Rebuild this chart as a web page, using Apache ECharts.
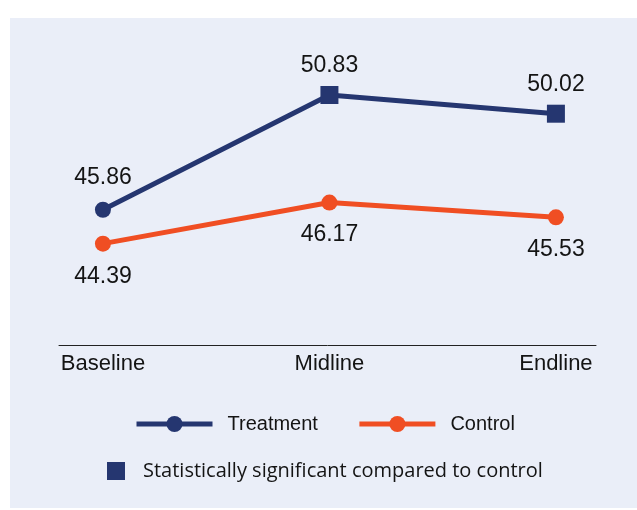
<!DOCTYPE html>
<html>
<head>
<meta charset="utf-8">
<script src="https://cdn.jsdelivr.net/npm/echarts@6/dist/echarts.min.js"></script>
<style>
  html, body { margin: 0; padding: 0; background: #ffffff; }
  #panel { position: absolute; left: 10px; top: 18px; right: 0; bottom: 2px; background: #eaeef8; }
  #chart { position: absolute; left: 0; top: 0; width: 637px; height: 510px; }
</style>
</head>
<body>
<div id="panel"></div>
<div id="chart"></div>
<script>
const categories = ['Baseline', 'Midline', 'Endline'];
const treatment = [45.86, 50.83, 50.02];
const control = [44.39, 46.17, 45.53];
const significant = [false, true, true];
const sigLabel = 'Statistically significant compared to control';

const NAVY = '#253670';
const ORANGE = '#f04e23';
const TEXT = '#141414';
const numFont = '"Liberation Sans", Arial, Helvetica, sans-serif';

const chart = echarts.init(document.getElementById('chart'), null, { renderer: 'canvas' });

const treatData = treatment.map((v, i) => ({
  value: [i, v],
  symbol: significant[i] ? 'rect' : 'circle',
  symbolSize: significant[i] ? 18 : 16,
  label: { distance: significant[i] ? 9 : 13 }
}));
const ctrlData = control.map((v, i) => [i, v]);

chart.setOption({
  backgroundColor: 'transparent',
  animation: false,
  grid: { left: 59, right: 41, top: 68, bottom: 165 },
  xAxis: {
    type: 'value',
    min: -0.194,
    max: 2.177,
    splitLine: { show: false },
    axisLine: { show: true, onZero: false, lineStyle: { color: '#222', width: 1 } },
    axisTick: { show: false },
    axisLabel: {
      customValues: [0, 1, 2],
      formatter: v => categories[Math.round(v)] || '',
      color: TEXT,
      fontFamily: numFont,
      fontSize: 22,
      margin: 8
    }
  },
  yAxis: { type: 'value', min: 40, max: 52, show: false, splitLine: { show: false } },
  legend: [
    {
      data: ['Treatment', 'Control'],
      left: 129,
      top: 409,
      itemWidth: 76,
      itemHeight: 20,
      itemGap: 39,
      lineStyle: { width: 5 },
      textStyle: { color: TEXT, fontFamily: numFont, fontSize: 20, padding: [0, 0, 0, 10] }
    },
    {
      data: [{ name: sigLabel, icon: 'rect' }],
      left: 102,
      top: 456,
      itemWidth: 18,
      itemHeight: 18,
      textStyle: { color: TEXT, fontFamily: '"Open Sans", "Noto Sans", sans-serif', fontSize: 20, padding: [0, 0, 0, 13] }
    }
  ],
  series: [
    {
      name: 'Treatment',
      type: 'line',
      data: treatData,
      symbol: 'circle',
      symbolSize: 16,
      color: NAVY,
      lineStyle: { color: NAVY, width: 5 },
      itemStyle: { color: NAVY },
      label: {
        show: true, position: 'top', distance: 11,
        color: TEXT, fontFamily: numFont, fontSize: 23,
        formatter: p => p.value[1].toFixed(2)
      },
      z: 3
    },
    {
      name: 'Control',
      type: 'line',
      data: ctrlData,
      symbol: 'circle',
      symbolSize: 16,
      color: ORANGE,
      lineStyle: { color: ORANGE, width: 5 },
      itemStyle: { color: ORANGE },
      label: {
        show: true, position: 'bottom', distance: 13,
        color: TEXT, fontFamily: numFont, fontSize: 23,
        formatter: p => p.value[1].toFixed(2)
      },
      z: 2
    },
    {
      name: sigLabel,
      type: 'line',
      data: [],
      color: NAVY,
      itemStyle: { color: NAVY }
    }
  ]
});
</script>
</body>
</html>
